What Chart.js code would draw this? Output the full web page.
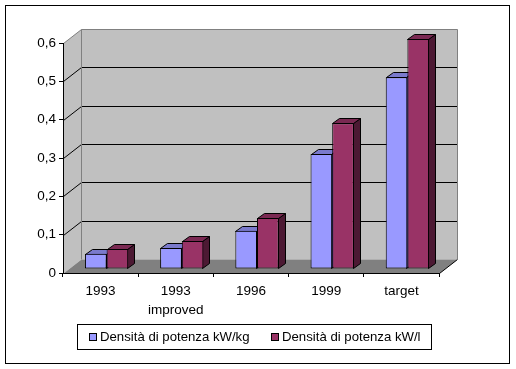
<!DOCTYPE html>
<html>
<head>
<meta charset="utf-8">
<title>Densità di potenza</title>
<style>
html, body { margin: 0; padding: 0; background: #fff; }
canvas { display: block; }
</style>
<script src="https://cdn.jsdelivr.net/npm/chart.js@4"></script>
</head>
<body>
<canvas id="dataChart" width="516" height="369"></canvas>
<script>
const categories = [['1993'], ['1993', 'improved'], ['1996'], ['1999'], ['target']];
const kwKg = [0.04, 0.055, 0.1, 0.3, 0.5];
const kwL = [0.052, 0.073, 0.133, 0.38, 0.6];
const yTickLabels = ['0', '0,1', '0,2', '0,3', '0,4', '0,5', '0,6'];
const seriesNames = ['Densità di potenza kW/kg', 'Densità di potenza kW/l'];

const FAMILY = '"Liberation Sans", Arial, sans-serif';

// colori di ogni serie: fronte, sopra, lato
const faceColors = ['#9999FF', '#993366'];
const topColors = ['#7A7ACC', '#7A2952'];
const sideColors = ['#4C4C80', '#4C1933'];

// profondità del grafico finto 3D
const WALL_DX = 18, WALL_DY = -14;
const BAR_SHIFT_X = 6, BAR_SHIFT_Y = -4;
const BAR_DX = 7, BAR_DY = -5;

const poly = (ctx, points, fill, stroke) => {
    ctx.beginPath();
    points.forEach((p, i) => i ? ctx.lineTo(p[0], p[1]) : ctx.moveTo(p[0], p[1]));
    ctx.closePath();
    if (fill) { ctx.fillStyle = fill; ctx.fill(); }
    if (stroke) { ctx.strokeStyle = stroke; ctx.lineWidth = 1; ctx.stroke(); }
};

// cornice, pareti, pavimento e griglia
const wallsPlugin = {
    id: 'walls',
    beforeDraw(chart) {
        const { ctx, chartArea: a, scales } = chart;
        const y = scales.y;
        ctx.save();
        ctx.fillStyle = '#fff';
        ctx.fillRect(0, 0, chart.width, chart.height);
        ctx.strokeStyle = '#000';
        ctx.lineWidth = 1;
        ctx.strokeRect(5.5, 5.5, 504, 358);

        const l = a.left + 0.5, r = a.right + 0.5, t = a.top + 0.5, b = a.bottom + 0.5;
        poly(ctx, [[l + WALL_DX, t + WALL_DY], [r + WALL_DX, t + WALL_DY], [r + WALL_DX, b + WALL_DY], [l + WALL_DX, b + WALL_DY]], '#C0C0C0');
        poly(ctx, [[l, t], [l + WALL_DX, t + WALL_DY], [l + WALL_DX, b + WALL_DY], [l, b]], '#C0C0C0');
        poly(ctx, [[l, b], [l + WALL_DX, b + WALL_DY], [r + WALL_DX, b + WALL_DY], [r, b]], '#808080');

        // griglia sulle pareti
        ctx.strokeStyle = '#000';
        ctx.beginPath();
        y.ticks.slice(1, -1).forEach((tick) => {
            const py = Math.round(y.getPixelForValue(tick.value)) + 0.5;
            ctx.moveTo(l, py);
            ctx.lineTo(l + WALL_DX, py + WALL_DY);
            ctx.lineTo(r + WALL_DX, py + WALL_DY);
        });
        ctx.moveTo(r, b);
        ctx.lineTo(r + WALL_DX, b + WALL_DY);
        ctx.stroke();

        // bordo grigio delle pareti
        ctx.strokeStyle = '#808080';
        ctx.beginPath();
        ctx.moveTo(l, t);
        ctx.lineTo(l + WALL_DX, t + WALL_DY);
        ctx.lineTo(r + WALL_DX, t + WALL_DY);
        ctx.lineTo(r + WALL_DX, b + WALL_DY);
        ctx.moveTo(l + WALL_DX, t + WALL_DY);
        ctx.lineTo(l + WALL_DX, b + WALL_DY);
        ctx.stroke();
        ctx.restore();
    }
};

// sposta le barre a metà profondità e disegna lato e sopra
const depthPlugin = {
    id: 'depth',
    beforeDatasetsDraw(chart) {
        const { ctx } = chart;
        ctx.save();
        ctx.translate(BAR_SHIFT_X, BAR_SHIFT_Y);
        chart.data.datasets.forEach((ds, i) => {
            chart.getDatasetMeta(i).data.forEach((bar) => {
                const { x, y, base, width } = bar.getProps(['x', 'y', 'base', 'width']);
                const l = Math.round(x - width / 2) + 0.5;
                const r = Math.round(x + width / 2) - 0.5;
                const top = Math.round(y) + 0.5;
                const bottom = Math.round(base) - 0.5;
                poly(ctx, [[r, top], [r + BAR_DX, top + BAR_DY], [r + BAR_DX, bottom + BAR_DY], [r, bottom]], sideColors[i], '#000');
                poly(ctx, [[l, top], [l + BAR_DX, top + BAR_DY], [r + BAR_DX, top + BAR_DY], [r, top]], topColors[i], '#000');
            });
        });
    },
    afterDatasetsDraw(chart) {
        chart.ctx.restore();
    }
};

// legenda con riquadro
const legendPlugin = {
    id: 'boxLegend',
    afterDraw(chart) {
        const { ctx } = chart;
        ctx.save();
        ctx.strokeStyle = '#000';
        ctx.lineWidth = 1;
        ctx.strokeRect(77.5, 324.5, 354, 25);
        ctx.font = '13.2px ' + FAMILY;
        ctx.textBaseline = 'middle';
        [89, 271].forEach((x, i) => {
            ctx.fillStyle = faceColors[i];
            ctx.fillRect(x + 0.5, 333.5, 7, 7);
            ctx.strokeRect(x + 0.5, 333.5, 7, 7);
            ctx.fillStyle = '#000';
            ctx.fillText(chart.data.datasets[i].label, x + 11, 337);
        });
        ctx.restore();
    }
};

const ctx = document.getElementById('dataChart').getContext('2d');
const chart = new Chart(ctx, {
    type: 'bar',
    data: {
        labels: categories,
        datasets: [
            { label: seriesNames[0], data: kwKg, backgroundColor: faceColors[0] },
            { label: seriesNames[1], data: kwL, backgroundColor: faceColors[1] }
        ]
    },
    options: {
        responsive: false,
        animation: false,
        layout: { padding: { left: 0, top: 43, right: 77, bottom: 0 } },
        datasets: {
            bar: {
                categoryPercentage: 0.576,
                barPercentage: 1,
                borderColor: '#000',
                borderWidth: 1,
                borderSkipped: false,
                clip: false
            }
        },
        plugins: {
            legend: { display: false },
            title: { display: false },
            tooltip: { enabled: false }
        },
        scales: {
            x: {
                afterFit: (scale) => { scale.height = 96; },
                grid: { drawOnChartArea: false, color: '#000', tickLength: 4, offset: true },
                border: { color: '#000' },
                ticks: {
                    color: '#000',
                    maxRotation: 0,
                    autoSkip: false,
                    padding: 5,
                    font: { family: FAMILY, size: 13.5, lineHeight: 1.41 }
                }
            },
            y: {
                min: 0,
                max: 0.6,
                afterFit: (scale) => { scale.width = 63; },
                grid: { drawOnChartArea: false, color: '#000', tickLength: 4 },
                border: { color: '#000' },
                ticks: {
                    stepSize: 0.1,
                    color: '#000',
                    padding: 3,
                    font: { family: FAMILY, size: 13.5 },
                    callback: (value, index) => yTickLabels[index]
                }
            }
        }
    },
    plugins: [wallsPlugin, depthPlugin, legendPlugin]
});
</script>
</body>
</html>
